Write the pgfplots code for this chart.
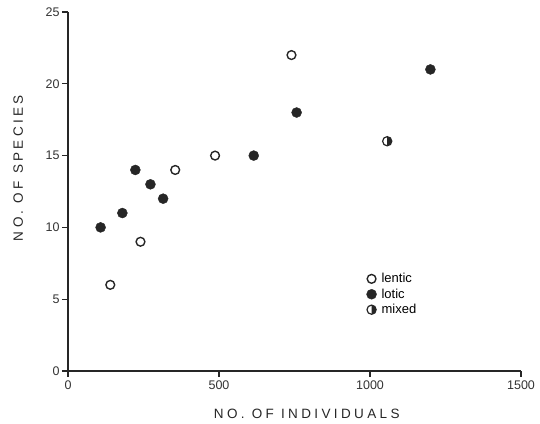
\documentclass[border=0pt]{standalone}
\usepackage{fontspec}
\setmainfont{Liberation Sans}
\newfontfamily\spaced[LetterSpace=25]{Liberation Sans}
\usepackage{pgfplots}
\pgfplotsset{compat=1.18}

% half-filled circle: left half open, right half black
\pgfdeclareplotmark{halfdisc}{%
  \pgfpathcircle{\pgfpointorigin}{\pgfplotmarksize}%
  \pgfusepathqstroke
  \pgfpathmoveto{\pgfqpoint{0pt}{\pgfplotmarksize}}%
  \pgfpatharc{90}{-90}{\pgfplotmarksize}%
  \pgfpathclose
  \pgfusepathqfill
}

\begin{document}
\begin{tikzpicture}
\begin{axis}[
  scale only axis, width=453pt, height=359pt,
  xmin=0, xmax=1500, ymin=0, ymax=25,
  clip=false,
  axis lines=left,
  axis line style={-, line width=1.2pt, black!85},
  xtick={0,500,1000,1500}, ytick={0,5,...,25},
  tick align=outside, major tick length=6pt,
  tick style={line width=1.2pt, black!85},
  ticklabel style={font=\fontsize{12.5}{14}\selectfont, text=black!80},
  yticklabel style={xshift=1pt},
  /pgf/number format/assume math mode=true,
  /pgf/number format/1000 sep={},
  xlabel={\spaced NO. OF INDIVIDUALS},
  ylabel={\spaced NO. OF SPECIES},
  label style={font=\fontsize{13.5}{15}\selectfont, text=black!85},
  xlabel style={at={(axis description cs:0.527,-0.12)}, anchor=center},
  ylabel style={at={(axis description cs:-0.11,0.565)}, anchor=center},
  legend style={at={(axis cs:988,6.95)}, anchor=north west, draw=none, fill=none,
    inner sep=0pt, row sep=0.5pt, font=\fontsize{13}{14}\selectfont,
    cells={anchor=west}, nodes={inner xsep=5pt}},
  legend image code/.code={\draw[mark repeat=2,mark phase=2,#1] plot coordinates {(0pt,0pt)(5pt,0pt)(10pt,0pt)};},
]
\coordinate (O) at (rel axis cs:0,0);
\coordinate (T) at (rel axis cs:1,1);

% lentic
\addplot[only marks, mark=o, mark size=4.4pt, line width=1.4pt, black!85] coordinates {
  (140,6) (240,9) (355,14) (487,15) (740,22)
};
\addlegendentry{lentic}
% lotic
\addplot[only marks, mark=*, mark size=5pt, black!85, mark options={fill=black!85}] coordinates {
  (108,10) (180,11) (223,14) (273,13) (315,12) (615,15) (757,18) (1200,21)
};
\addlegendentry{lotic}
% mixed
\addplot[only marks, mark=halfdisc, mark size=4.6pt, line width=1.2pt, black!85, fill=black!85] coordinates {
  (1057,16)
};
\addlegendentry{mixed}
\end{axis}
\pgfresetboundingbox
\path[use as bounding box] ([shift={(-68pt,-53pt)}]O) rectangle ([shift={(19pt,12pt)}]T);
\end{tikzpicture}
\end{document}
